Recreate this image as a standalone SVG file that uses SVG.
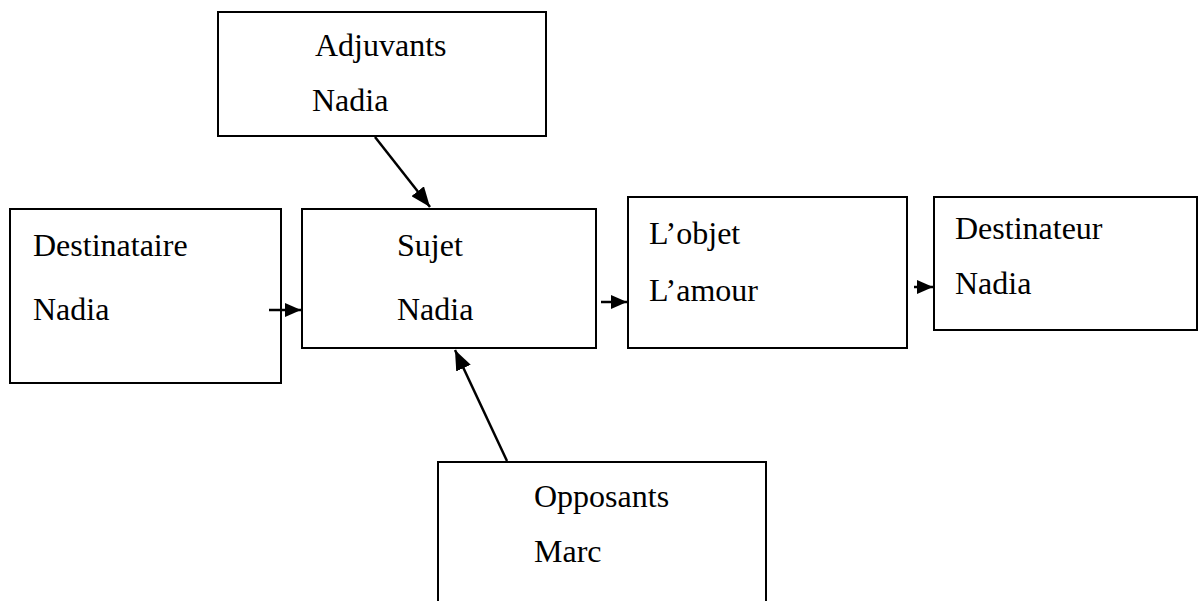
<svg xmlns="http://www.w3.org/2000/svg" width="1201" height="601" viewBox="0 0 1201 601">
<defs>
<style>
.box{fill:#fff;stroke:#000;stroke-width:2}
.t{font-family:"Liberation Serif","Times New Roman",serif;font-size:32px;fill:#000}
.c{stroke:#000;stroke-width:2.5;fill:none}
</style>
<marker id="a" viewBox="0 0 16 14" refX="16" refY="7" markerWidth="16" markerHeight="14" orient="auto" markerUnits="userSpaceOnUse">
<path d="M0,0 L16,7 L0,14 Z" fill="#000"/>
</marker>
<marker id="b" viewBox="0 0 20 16" refX="20" refY="8" markerWidth="20" markerHeight="16" orient="auto" markerUnits="userSpaceOnUse">
<path d="M0,0 L20,8 L0,16 Z" fill="#000"/>
</marker>
</defs>
<rect width="1201" height="601" fill="#fff"/>
<g id="adjuvants">
<rect class="box" x="218" y="12" width="328" height="124"/>
<text class="t" x="315" y="56">Adjuvants</text>
<text class="t" x="312" y="111">Nadia</text>
</g>
<g id="destinataire">
<rect class="box" x="10" y="209" width="271" height="174"/>
<text class="t" x="33" y="256">Destinataire</text>
<text class="t" x="33" y="320">Nadia</text>
</g>
<g id="sujet">
<rect class="box" x="302" y="209" width="294" height="139"/>
<text class="t" x="397" y="256">Sujet</text>
<text class="t" x="397" y="320">Nadia</text>
</g>
<g id="objet">
<rect class="box" x="628" y="197" width="279" height="151"/>
<text class="t" x="649" y="244">L’objet</text>
<text class="t" x="649" y="301">L’amour</text>
</g>
<g id="destinateur">
<rect class="box" x="934" y="197" width="263" height="133"/>
<text class="t" x="955" y="239">Destinateur</text>
<text class="t" x="955" y="294">Nadia</text>
</g>
<g id="opposants">
<rect class="box" x="438" y="462" width="328" height="150"/>
<text class="t" x="534" y="507">Opposants</text>
<text class="t" x="534" y="562">Marc</text>
</g>
<g id="connectors">
<line class="c" x1="375" y1="137" x2="430" y2="207" marker-end="url(#b)"/>
<line class="c" x1="269" y1="310" x2="301" y2="310" marker-end="url(#a)"/>
<line class="c" x1="601" y1="302" x2="627" y2="302" marker-end="url(#a)"/>
<line class="c" x1="914" y1="287" x2="933" y2="287" marker-end="url(#a)"/>
<line class="c" x1="507" y1="461" x2="455" y2="350" marker-end="url(#b)"/>
</g>
</svg>
